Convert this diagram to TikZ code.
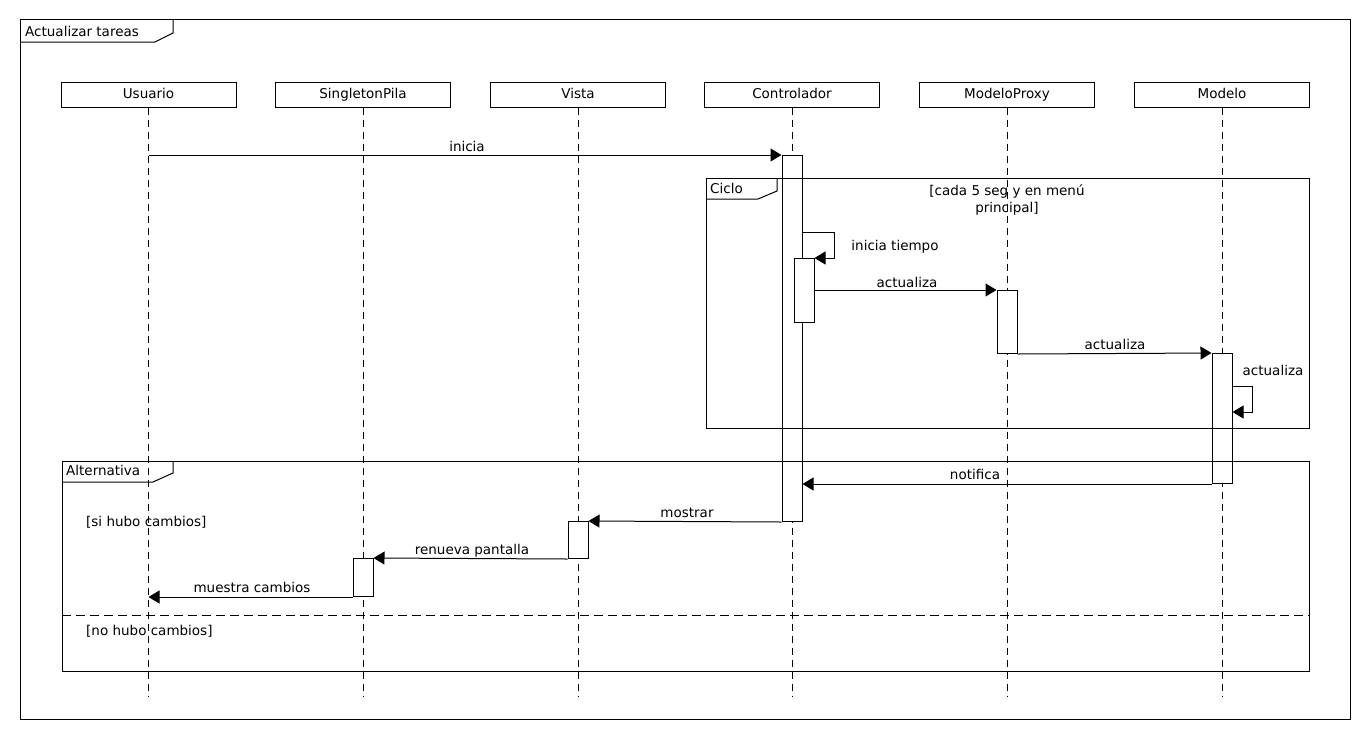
\documentclass[tikz,border=0pt]{standalone}
\usepackage{fontspec}
\setmainfont{DejaVu Sans}
\usetikzlibrary{arrows.meta}
\tikzset{
  base/.style={line width=1pt, line join=miter},
  txt/.style={font=\fontsize{13.5}{16}\selectfont},
  head/.style={base, txt, draw, fill=white, minimum width=175pt, minimum height=25pt, inner sep=0pt, text height=9.5pt, text depth=2.5pt},
  life/.style={base, dash pattern=on 7pt off 5pt},
  act/.style={base, draw, fill=white, minimum width=20pt, inner sep=0pt, anchor=north},
  msg/.style={base, -{Triangle[length=11pt,width=13pt]}},
  lbl/.style={txt, inner sep=0pt, anchor=base},
  lblw/.style={txt, inner sep=0pt, anchor=base west},
  frm/.style={base, draw},
  divider/.style={base, dash pattern=on 9pt off 5pt}
}
\begin{document}
\begin{tikzpicture}[x=1pt, y=-1pt]
\useasboundingbox (0,0) rectangle (1370,740);
\fill[white] (0,0) rectangle (1370,740);

% lifeline heads
\node[head] (usuario) at (148.5,94.5) {Usuario};
\node[head] (singleton) at (363,94.5) {SingletonPila};
\node[head] (vista) at (578,94.5) {Vista};
\node[head] (controlador) at (792,94.5) {Controlador};
\node[head] (proxy) at (1007,94.5) {ModeloProxy};
\node[head] (modelo) at (1222,94.5) {Modelo};

% lifeline ends
\foreach \n in {usuario,singleton,vista,controlador,proxy,modelo}{
  \coordinate (\n-end) at (\n.south |- 0,697);
  \draw[life] (\n.south) -- (\n-end);
}

% activations
\node[act, minimum height=366pt] (cA) at (792,155) {};
\node[act, minimum height=64pt] (cB) at (804,258) {};
\node[act, minimum height=63pt] (pA) at (1007,290) {};
\node[act, minimum height=130pt] (mA) at (1222,353) {};
\node[act, minimum height=37pt] (vA) at (578,521) {};
\node[act, minimum height=38pt] (sA) at (363,558) {};

% messages
\coordinate (u1) at (usuario.south |- cA.north);
\draw[msg] (u1) -- (cA.north west);
\node[lbl] (l1) at (467,151) {inicia};

\coordinate (c1) at (cA.east |- 0,232);
\draw[msg] (c1) -- ++(32,0) |- (cB.north east);
\node[lbl] (l2) at (895,250) {inicia tiempo};

\draw[msg] (cB.east |- pA.north) -- (pA.north west);
\node[lbl] (l3) at (907,287) {actualiza};

\draw[msg] (pA.south east) -- (mA.north west);
\node[lbl] (l4) at (1115,349) {actualiza};

\coordinate (m1) at (mA.east |- 0,386);
\coordinate (m2) at (mA.east |- 0,412);
\draw[msg] (m1) -- ++(20,0) |- (m2);
\node[lbl] (l5) at (1273,375) {actualiza};

\coordinate (c2) at (cA.east |- mA.south);
\draw[msg] (mA.south west) -- (c2);
\node[lbl] (l6) at (975,479) {notifica};

\draw[msg] (cA.south west) -- (vA.north east);
\node[lbl] (l7) at (687,517) {mostrar};

\draw[msg] (vA.south west) -- (sA.north east);
\node[lbl] (l8) at (472,554) {renueva pantalla};

\coordinate (u2) at (usuario.south |- sA.south);
\draw[msg] (sA.south west) -- (u2);
\node[lbl] (l9) at (252,592) {muestra cambios};

% outer frame
\draw[frm] (20,19) rectangle (1350,719);
\draw[frm] (173,19) -- (173,33) -- (155,42) -- (20,42);
\node[lblw] (t0) at (25,36) {Actualizar tareas};

% Ciclo frame
\draw[frm] (706,178) rectangle (1309,428);
\draw[frm] (777,178) -- (777,191) -- (758,199) -- (706,199);
\node[lblw] (t1) at (710,193) {Ciclo};
\node[txt, inner sep=0pt, align=center, font=\fontsize{13.5}{16.5}\selectfont] (g1) at (1007,200) {[cada 5 seg y en menú\\principal]};

% Alternativa frame
\draw[frm] (62,461) rectangle (1309,671);
\draw[frm] (173,461) -- (173,473) -- (153,482) -- (62,482);
\node[lblw] (t2) at (66,475) {Alternativa};
\node[lblw] (g2) at (86,526) {[si hubo cambios]};
\draw[divider] (62,615) -- (1309,615);
\node[lblw] (g3) at (86,635) {[no hubo cambios]};
\end{tikzpicture}
\end{document}
